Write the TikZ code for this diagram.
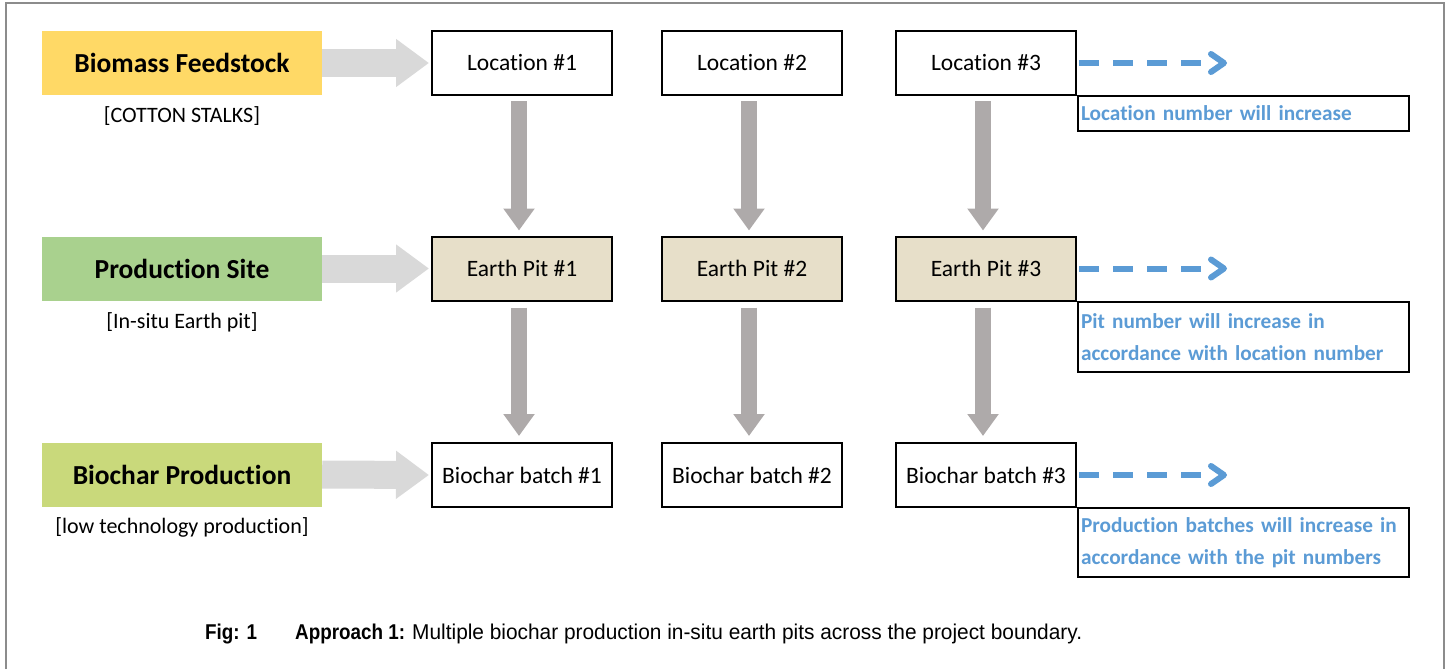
\documentclass[tikz,border=0pt]{standalone}
\usepackage{fontspec}
\setmainfont{Carlito}[Ligatures=NoCommon]
\newfontfamily\capfont[FakeStretch=0.975]{Liberation Sans}
\newfontfamily\capbold[FakeStretch=0.88]{Liberation Sans Bold}
\usetikzlibrary{calc,arrows.meta}

\definecolor{feedY}{HTML}{FFD966}
\definecolor{siteG}{HTML}{A9D18E}
\definecolor{charG}{HTML}{C9D97B}
\definecolor{pitTan}{HTML}{E7DFC9}
\definecolor{noteBlue}{HTML}{5B9BD5}
\definecolor{flowLight}{HTML}{D9D9D9}
\definecolor{flowDark}{HTML}{AEAAAA}
\definecolor{frameGray}{HTML}{8C8C8C}

\tikzset{
  stage/.style={minimum width=280pt, minimum height=64pt, inner sep=0pt,
    font=\fontsize{27.5}{32}\selectfont\bfseries},
  stagesub/.style={inner sep=0pt, font=\fontsize{22}{26}\selectfont},
  cbox/.style={draw=black, line width=2pt, minimum width=180pt, minimum height=64pt,
    inner sep=0pt, font=\fontsize{23.5}{28}\selectfont},
  pitbox/.style={cbox, fill=pitTan},
  notebox/.style={draw=black, line width=2pt, anchor=north west, text width=325pt,
    inner xsep=3pt, inner ysep=0pt, align=left, text=noteBlue,
    font=\fontsize{21.3}{32}\selectfont\bfseries},
  feedarrow/.style={draw=flowLight, line width=28pt,
    -{Triangle[length=33pt, width=46pt]}},
  downarrow/.style={draw=flowDark, line width=16pt,
    -{Triangle[length=22pt, width=30pt]}},
  moredash/.style={draw=noteBlue, line width=6pt, dash pattern=on 20pt off 14pt},
  morehead/.style={draw=noteBlue, line width=6pt, line cap=round, line join=round},
  captxt/.style={anchor=base west, inner sep=0pt},
}

\begin{document}
\begin{tikzpicture}[x=1pt, y=-1pt]
\useasboundingbox (0,0) rectangle (1450,669);

% outer frame
\draw[frameGray, line width=2.5pt] (6,669) -- (6,3) -- (1444,3) -- (1444,669);

% stage labels
\node[stage, fill=feedY] (feed) at (182,63) {Biomass Feedstock};
\node[stage, fill=siteG] (site) at (182,268.5) {Production Site};
\node[stage, fill=charG] (char) at (182,474.5) {Biochar Production};
\node[stagesub] (feedsub) at (182,116) {[COTTON STALKS]};
\node[stagesub] (sitesub) at (182,322) {[In-situ Earth pit]};
\node[stagesub] (charsub) at (182,527) {[low technology production]};

% locations
\node[cbox] (loc1) at (522,63) {Location \#1};
\node[cbox] (loc2) at (752,63) {Location \#2};
\node[cbox] (loc3) at (986,63) {Location \#3};

% earth pits
\node[pitbox] (pit1) at (522,268.5) {Earth Pit \#1};
\node[pitbox] (pit2) at (752,268.5) {Earth Pit \#2};
\node[pitbox] (pit3) at (986,268.5) {Earth Pit \#3};

% biochar batches
\node[cbox] (bat1) at (522,475) {Biochar batch \#1};
\node[cbox] (bat2) at (752,475) {Biochar batch \#2};
\node[cbox] (bat3) at (986,475) {Biochar batch \#3};

% stage label -> first column
\draw[feedarrow] (feed.east) -- ($(loc1.west)+(-2,0)$);
\draw[feedarrow] (site.east) -- ($(pit1.west)+(-2,0)$);
\draw[feedarrow] (char.east) -- ($(bat1.west)+(-2,0)$);

% column flows
\foreach \c in {1,2,3}{
  \draw[downarrow] ($(loc\c.south)+(-3,5)$) -- ($(pit\c.north)+(-3,-5)$);
  \draw[downarrow] ($(pit\c.south)+(-3,6)$) -- ($(bat\c.north)+(-3,-6)$);
}

% continuation markers
\coordinate (e1) at ($(loc3.east)+(147,0)$);
\coordinate (e2) at ($(pit3.east)+(147,0)$);
\coordinate (e3) at ($(bat3.east)+(147,0)$);
\draw[moredash] ($(loc3.east)+(2,0)$) -- ($(e1)+(-23,0)$);
\draw[moredash] ($(pit3.east)+(2,0)$) -- ($(e2)+(-23,0)$);
\draw[moredash] ($(bat3.east)+(2,0)$) -- ($(e3)+(-23,0)$);
\foreach \e in {e1,e2,e3}
  \draw[morehead] ($(\e)+(-13,-9)$) -- (\e) -- ($(\e)+(-13,9)$);

% notes
\node[notebox, minimum height=35pt] (note1) at (1077,95) {Location number will increase};
\node[notebox, minimum height=70pt] (note2) at (1077,301) {Pit number will increase in\\accordance with location number};
\node[notebox, minimum height=69pt] (note3) at (1077,507) {Production batches will increase in\\accordance with the pit numbers};

% caption
\node[captxt, font=\capbold\fontsize{21.4}{24}\selectfont] (fig) at (205,639) {Fig: 1};
\node[captxt, font=\capbold\fontsize{21.4}{24}\selectfont] (appr) at (295,639) {Approach 1:};
\node[captxt, font=\capfont\fontsize{21.4}{24}\selectfont] (cap) at (412,639)
  {Multiple biochar production in-situ earth pits across the project boundary.};
\end{tikzpicture}
\end{document}
